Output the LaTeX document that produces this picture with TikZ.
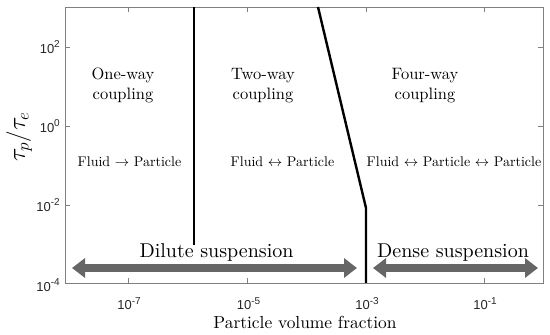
\documentclass[tikz,border=0pt]{standalone}
\usepackage{fontspec}
\setmainfont{lmroman10-regular.otf}[BoldFont=lmroman10-bold.otf, ItalicFont=lmroman10-italic.otf]
\newfontfamily\axisfont{Liberation Sans}
\usetikzlibrary{arrows.meta}
\newcommand{\tenpow}[1]{10\raisebox{0.42em}{\fontsize{10}{10}\selectfont #1}}
\begin{document}
\begin{tikzpicture}[x=1pt,y=1pt,
  axisline/.style={draw=black!50, line width=0.8pt},
  tickmark/.style={draw=black!50, line width=0.8pt},
  boundary/.style={draw=black, line width=2.4pt},
  regime/.style={font=\fontsize{16.5}{20}\selectfont, align=center, inner sep=0pt},
  interact/.style={font=\fontsize{14}{16}\selectfont, inner sep=0pt, anchor=base},
  suspension/.style={font=\fontsize{20}{22}\selectfont, inner sep=0pt, anchor=base},
  ticklab/.style={font=\axisfont\fontsize{13}{14}\selectfont, text=black!85, inner sep=0pt},
  bigarrow/.style={draw=black!60, line width=7.5pt, {Triangle[length=13pt,width=19pt]}-{Triangle[length=13pt,width=19pt]}}
]
\useasboundingbox (0,0) rectangle (550,335);

% axes box
\draw[axisline] (65,52) rectangle (543,328);
% x ticks
\foreach \xx in {128,247.5,366,484}{
  \draw[tickmark] (\xx,52) -- (\xx,57);
  \draw[tickmark] (\xx,328) -- (\xx,323);
}
% y ticks
\foreach \yy in {288,209,130}{
  \draw[tickmark] (65,\yy) -- (70,\yy);
  \draw[tickmark] (543,\yy) -- (538,\yy);
}

% tick labels
\node[ticklab, anchor=base] (xt7) at (129,25) {\tenpow{-7}};
\node[ticklab, anchor=base] (xt5) at (248.5,25) {\tenpow{-5}};
\node[ticklab, anchor=base] (xt3) at (367,25) {\tenpow{-3}};
\node[ticklab, anchor=base] (xt1) at (485,25) {\tenpow{-1}};
\node[ticklab, anchor=east] (yt2) at (60,288) {\tenpow{2}};
\node[ticklab, anchor=east] (yt0) at (60,209) {\tenpow{0}};
\node[ticklab, anchor=east] (ytm2) at (60,130) {\tenpow{-2}};
\node[ticklab, anchor=east] (ytm4) at (60,50) {\tenpow{-4}};

% axis labels
\node[font=\fontsize{17.4}{20}\selectfont, anchor=base, inner sep=0pt] (xlab) at (305,6) {Particle volume fraction};
\node[font=\fontsize{23}{24}\selectfont, rotate=90, inner sep=0pt] (ylab) at (19,198) {$\tau_p/\tau_e$};

% regime boundaries
\coordinate (b1top) at (194,328);
\coordinate (b1bot) at (194,90);
\coordinate (b2top) at (318,328);
\coordinate (b2knee) at (366,127);
\coordinate (b2bot) at (366,52);
\draw[boundary] (b1top) -- (b1bot);
\draw[boundary, line join=miter] (b2top) -- (b2knee) -- (b2bot);

% regime labels
\node[regime] (one) at (123,249.5) {One-way\\coupling};
\node[regime] (two) at (263,249.5) {Two-way\\coupling};
\node[regime] (four) at (425,249.5) {Four-way\\coupling};

\node[interact] (i1) at (129.5,168) {Fluid $\rightarrow$ Particle};
\node[interact] (i2) at (282.5,168) {Fluid $\leftrightarrow$ Particle};
\node[interact] (i3) at (454,168) {Fluid $\leftrightarrow$ Particle $\leftrightarrow$ Particle};

% suspension arrows
\coordinate (dl) at (72,67);
\coordinate (dr) at (357,67);
\coordinate (nl) at (373,67);
\coordinate (nr) at (538,67);
\draw[bigarrow] (dl) -- (dr);
\draw[bigarrow] (nl) -- (nr);
\node[suspension] (dil) at (216.5,77) {Dilute suspension};
\node[suspension] (den) at (453,77) {Dense suspension};
\end{tikzpicture}
\end{document}
